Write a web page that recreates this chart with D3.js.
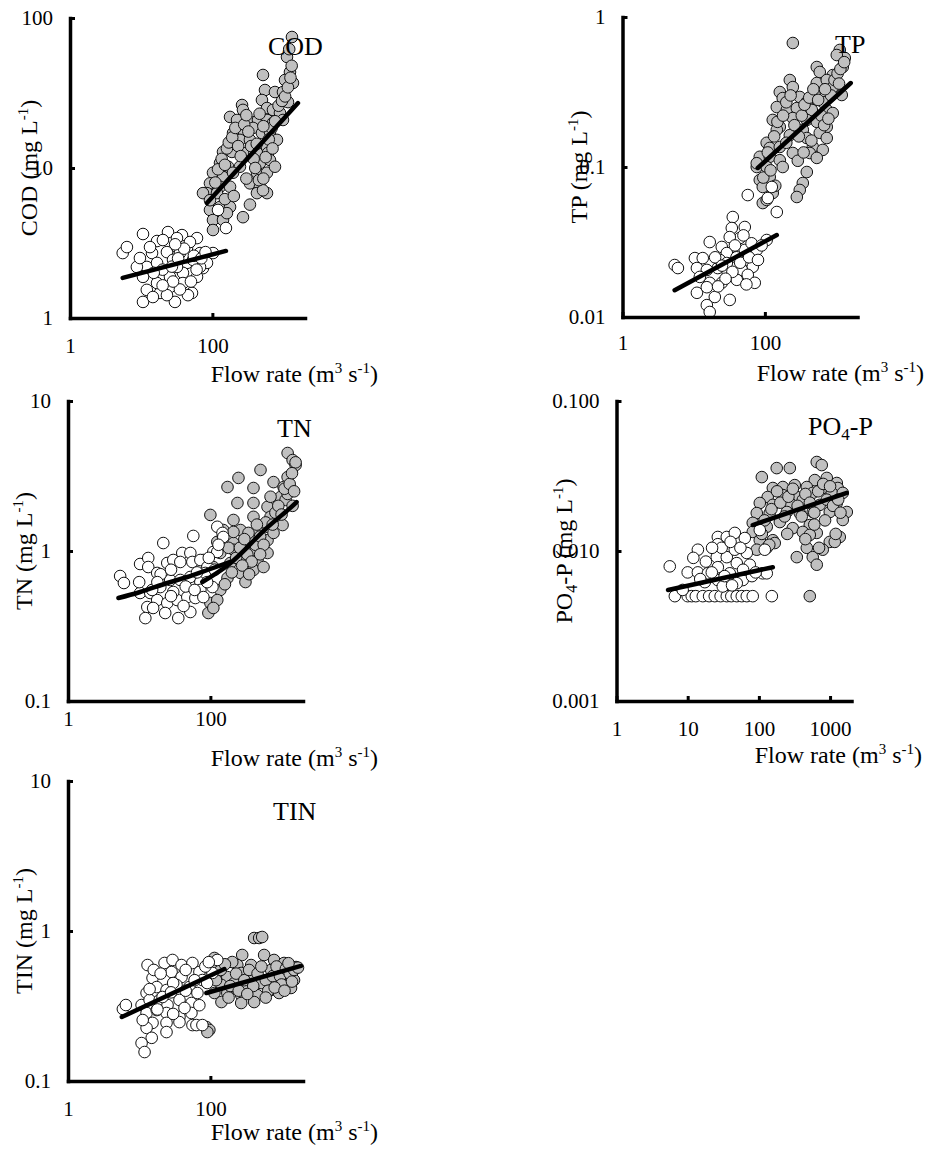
<!DOCTYPE html>
<html>
<head>
<meta charset="utf-8">
<script src="https://cdn.jsdelivr.net/npm/d3@7"></script>
<style>
  body { margin: 0; background: #fff; }
  text { font-family: "Liberation Serif", "Times New Roman", serif; fill: #000; }
</style>
</head>
<body>
<svg id="chart" width="933" height="1153"></svg>
<script>
// [flow rate, concentration]; low flow = white, high flow = grey
const codLow = [[5.5,2.71],[6.3,2.97],[10.6,3.63],[16.7,3.26],[23.8,3.74],[37.4,3.57],[60.8,3.41],[14.2,2.71],[23,2.75],[31.8,2.97],[44,2.93],[67,2.71],[102,2.71],[12,2.19],[16.7,2.33],[28,2.44],[44,2.33],[73.8,2.15],[10.6,1.88],[18.4,1.88],[25.4,1.88],[38.6,2.0],[60.8,1.88],[12,1.54],[18.4,1.47],[25.4,1.61],[38.6,1.71],[51.7,1.47],[10.6,1.28],[29.8,1.28],[14.6,1.38],[23,1.42],[45.4,1.42],[120,5.25],[155,3.98],[84,2.33],[67,2.19],[13.3,2.97],[20.2,3.31],[31.8,3.41],[48.4,3.21],[8.7,2.19],[9.6,2.51],[44,2.55],[53.4,2.44],[16.7,1.71],[31.8,2.19],[35,2.71],
  [20,2.1],[27,2.2],[33,2.5],[40,2.9],[55,2.6],[70,2.5],[80,2.75],[35,1.55],[28,1.75],[20,1.65],[50,1.75],[15,2.0],[30,3.1],[60,2.1]];
const codHigh = [[1312,74.7],[1117,55],[1230,43.6],[1047,38.6],[1355,36.9],[514,41.7],[548,33.1],[757,32.1],[981,32.1],[1153,27.5],[497,28.4],[261,26.3],[269,24.4],[585,25.1],[710,24.4],[890,23.3],[177,21.9],[222,20.9],[337,20.3],[437,20.9],[585,20.9],[710,20],[981,20.9],[195,17.1],[269,17.9],[372,18.5],[497,17.1],[644,17.4],[244,15.4],[337,15.4],[585,13.8],[808,15.4],[141,12.8],[188,12.8],[269,12.6],[423,12.6],[604,12.6],[128,10.8],[166,10.2],[244,10.2],[466,10.8],[644,11.3],[102,9.3],[141,8.7],[195,9.3],[423,9.3],[585,9.3],[757,10.2],[92.5,7.9],[128,7.5],[177,7.5],[337,7.9],[466,7.5],[585,6.8],[84,6.8],[116,6.8],[423,6.8],[514,7.1],[73.8,6.8],[92.5,5.25],[128,5.5],[177,5.5],[269,4.7],[337,5.7],[102,4.5],[141,4.5],[102,3.86],[160,5.0],[92.5,6.1],
  [110,8.0],[120,9.8],[135,11.5],[150,10.5],[160,13.5],[170,14.8],[190,16.0],[210,18.5],[230,14.0],[250,12.0],[280,19.5],[300,22.5],[320,17.5],[350,14.0],[380,11.5],[400,10.0],[450,8.3],[520,8.5],[560,11.8],[620,15.5],[680,18.5],[760,20.5],[850,26.0],[950,28.0],[1050,30.0],[1150,34.5],[1250,40.0],[1300,48.0],[1200,62.0],[300,8.5],[150,6.2],[200,6.5],[420,14.5],[520,19.0],[460,23.0],[700,13.5]];
const codLowFit = [[5.5,1.85],[155,2.8]];
const codHighFit = [[84,5.84],[1593,27.1]];

const tpLow = [[5.4,0.0222],[6.0,0.0212],[10.4,0.0247],[13.4,0.0247],[16.8,0.0316],[11.1,0.0212],[24.8,0.0293],[35.4,0.0464],[34.3,0.0392],[52.2,0.0398],[44.4,0.0336],[32.1,0.0341],[29.2,0.0267],[44.4,0.0267],[55.7,0.024],[76.9,0.028],[67.6,0.0216],[47.4,0.0206],[30.1,0.0197],[21.8,0.0212],[15.3,0.0206],[16.8,0.0169],[24.8,0.0169],[40.3,0.0177],[57.5,0.0191],[72.1,0.0169],[11.1,0.0145],[15.3,0.0158],[19.8,0.0136],[32.1,0.013],[15.3,0.012],[16.8,0.0108],[106,0.0326],[57.5,0.065],[110,0.0621],[147,0.0501],[125,0.0736],[23.3,0.024],[12.2,0.0185],[29.2,0.0229],[52.2,0.028],
  [20,0.025],[25,0.022],[35,0.02],[40,0.025],[45,0.023],[60,0.025],[65,0.031],[50,0.035],[38,0.03],[28,0.018],[22,0.016],[80,0.024],[90,0.03],[55,0.0165]];
const tpHigh = [[247,0.671],[1127,0.603],[1325,0.533],[1023,0.558],[536,0.464],[590,0.43],[899,0.41],[1242,0.464],[224,0.38],[247,0.341],[536,0.363],[740,0.38],[899,0.341],[1202,0.302],[162,0.316],[178,0.288],[309,0.293],[388,0.271],[502,0.302],[650,0.271],[147,0.251],[203,0.24],[281,0.247],[456,0.24],[740,0.24],[899,0.229],[129,0.206],[162,0.185],[247,0.212],[388,0.206],[536,0.2],[740,0.185],[147,0.177],[224,0.163],[341,0.177],[590,0.169],[740,0.156],[106,0.145],[117,0.134],[162,0.136],[388,0.156],[471,0.136],[650,0.13],[84.8,0.117],[117,0.117],[162,0.111],[247,0.124],[427,0.124],[536,0.115],[76.9,0.1],[106,0.1],[178,0.1],[388,0.0926],[84.8,0.0819],[117,0.0858],[341,0.0782],[93.4,0.0736],[129,0.0671],[309,0.0703],[281,0.0631],[93.4,0.0575],[106,0.0603],[76.9,0.106],
  [95,0.085],[110,0.125],[135,0.16],[150,0.2],[180,0.22],[200,0.27],[230,0.3],[260,0.19],[300,0.16],[330,0.22],[360,0.26],[420,0.29],[480,0.33],[560,0.28],[620,0.22],[680,0.19],[780,0.21],[850,0.3],[950,0.38],[1050,0.42],[1150,0.45],[1300,0.5],[120,0.095],[140,0.075],[290,0.11],[350,0.125],[450,0.15],[700,0.33],[200,0.145],[1100,0.36]];
const tpLowFit = [[5.4,0.0151],[147,0.0352]];
const tpHighFit = [[79.5,0.0985],[1608,0.363]];

const tnLow = [[5.4,0.681],[6.1,0.612],[10.3,0.819],[13.4,0.898],[21.8,1.13],[57.6,1.26],[13.4,0.782],[17.9,0.714],[24.8,0.832],[30.1,0.871],[40.3,0.97],[52.3,0.97],[37.8,0.845],[55.8,0.845],[72.3,0.871],[90.7,0.782],[110,0.985],[125,1.45],[10.3,0.525],[14.3,0.525],[19.8,0.575],[27.3,0.641],[37.8,0.641],[52.3,0.671],[72.3,0.621],[107,0.575],[13,0.423],[17.9,0.471],[24.8,0.45],[34.3,0.471],[47.4,0.493],[61.5,0.486],[12.2,0.357],[15.7,0.417],[23.2,0.386],[35.4,0.357],[52.3,0.392],[15.2,0.55],[30.1,0.533],[72.3,0.55],[85,0.714],[125,0.985],[148,1.32],[79.7,0.493],[152,1.24],
  [20,0.7],[28,0.75],[45,0.58],[60,0.55],[65,0.72],[42,0.43],[28,0.5],[18,0.62],[10,0.62],[90,0.62],[95,0.9],[115,0.75],[130,1.1]];
const tnHigh = [[1216,4.5],[1429,4.04],[1574,3.74],[1574,3.9],[506,3.47],[248,3.07],[174,2.67],[771,2.88],[1216,3.11],[1067,2.67],[403,2.63],[240,2.09],[403,2.09],[635,1.97],[968,2.29],[1138,2.19],[1216,2.4],[1429,2.0],[100,1.74],[211,1.61],[403,1.69],[700,1.69],[1033,1.49],[152,1.38],[265,1.38],[459,1.38],[635,1.45],[125,1.15],[211,1.13],[366,1.15],[635,1.18],[771,1.32],[79.7,0.871],[138,0.97],[211,1.02],[403,0.97],[635,0.97],[191,0.832],[292,0.871],[459,0.871],[110,0.782],[174,0.661],[265,0.714],[311,0.621],[403,0.747],[138,0.55],[100,0.45],[125,0.471],[93.7,0.386],[110,0.417],[558,0.782],[343,1.32],[211,1.34],
  [150,1.25],[180,1.05],[230,0.9],[260,1.05],[300,1.2],[330,0.95],[380,0.85],[430,1.1],[500,1.25],[560,1.1],[600,1.55],[750,1.5],[820,1.8],[900,2.0],[1000,1.75],[1100,2.6],[1300,2.8],[1400,3.3],[1500,2.5],[500,0.95],[280,0.8],[160,0.6],[200,0.72],[350,0.7],[450,1.5],[700,2.3]];
const tnLowFit = [[5.1,0.486],[10.3,0.533],[24.8,0.612],[47.4,0.671],[90.7,0.747],[191,0.845]];
const tnHighFit = [[77.1,0.621],[163,0.782],[311,1.03],[595,1.4],[1138,1.82],[1626,2.12]];

const po4Low = [[6.6,0.005],[10,0.005],[11.4,0.005],[13,0.005],[16.3,0.005],[20,0.005],[24,0.005],[29,0.005],[35.4,0.005],[41,0.005],[48.9,0.005],[57.5,0.005],[67.6,0.005],[82,0.005],[152,0.005],[5.6,0.0079],[10,0.0072],[13.9,0.0102],[13.9,0.0072],[26.5,0.0124],[26.5,0.0111],[35.4,0.0124],[45.9,0.0132],[63.4,0.0122],[25.6,0.0091],[35.4,0.0091],[45.9,0.0102],[48.9,0.0083],[26.5,0.0078],[17.4,0.0062],[26.5,0.0064],[39,0.0071],[59.4,0.0064],[74.5,0.0081],[19.2,0.0071],[121,0.0102],[113,0.0071],[31.1,0.0058],[48.9,0.0061],[8.5,0.0055],[67.6,0.0097],[103,0.0138],[21.8,0.0072],[129,0.0071],
  [12,0.009],[18,0.0085],[30,0.0105],[40,0.0115],[55,0.0105],[60,0.0075],[22,0.0105],[33,0.0068],[15,0.0065],[80,0.0068],[90,0.0072],[42,0.0059]];
const po4High = [[650,0.0392],[764,0.0374],[178,0.0357],[272,0.0357],[110,0.0311],[610,0.0297],[899,0.0307],[1242,0.0284],[157,0.0263],[217,0.0267],[319,0.0275],[471,0.0267],[789,0.0263],[1283,0.0263],[133,0.0229],[217,0.0236],[341,0.0229],[571,0.0244],[1057,0.0244],[1507,0.0244],[103,0.0209],[157,0.0203],[272,0.0209],[414,0.0219],[716,0.0203],[1242,0.0209],[1717,0.0182],[93.4,0.0179],[142,0.0179],[247,0.0182],[375,0.0179],[571,0.0182],[990,0.0182],[1507,0.0161],[82,0.0154],[129,0.0145],[197,0.0156],[299,0.0142],[519,0.0149],[650,0.0132],[82,0.0134],[103,0.0118],[157,0.0118],[414,0.0134],[519,0.0128],[990,0.0115],[1368,0.0124],[93.4,0.0102],[129,0.0105],[167,0.0113],[471,0.0105],[789,0.0102],[341,0.0091],[571,0.0091],[650,0.0081],[519,0.005],[1164,0.0115],
  [120,0.016],[150,0.019],[180,0.025],[200,0.021],[230,0.017],[260,0.023],[300,0.026],[350,0.02],[400,0.017],[450,0.024],[520,0.021],[600,0.018],[680,0.025],[800,0.028],[900,0.022],[1000,0.027],[1100,0.02],[1300,0.022],[1400,0.018],[250,0.013],[600,0.015],[850,0.016],[1200,0.013],[110,0.013],[140,0.011],[700,0.0105],[450,0.012]];
const po4LowFit = [[5.3,0.0055],[157,0.0078]];
const po4HighFit = [[82,0.0149],[1717,0.0244]];

const tinLow = [[5.9,0.302],[6.5,0.321],[10.8,0.321],[13.1,0.593],[15.4,0.486],[22.7,0.612],[29.4,0.641],[39.3,0.593],[56,0.612],[70.2,0.533],[28.5,0.533],[39.3,0.493],[17.6,0.423],[24.2,0.404],[33.4,0.437],[50.8,0.423],[77.3,0.471],[107,0.525],[125,0.641],[12.7,0.386],[14,0.347],[19.4,0.347],[25,0.321],[36.8,0.347],[54.2,0.331],[65.8,0.386],[12.7,0.284],[17.6,0.297],[24.2,0.284],[36.8,0.267],[54.2,0.284],[15.4,0.244],[24.2,0.244],[36.8,0.247],[56,0.236],[12.7,0.226],[15,0.194],[10.8,0.179],[11.9,0.156],[24.2,0.212],[63.7,0.236],[77.3,0.236],[11.2,0.255],[21.3,0.363],[43.3,0.307],
  [16,0.55],[20,0.52],[30,0.45],[45,0.55],[60,0.47],[85,0.58],[95,0.62],[18,0.3],[30,0.28],[45,0.4],[70,0.32],[90,0.45],[14,0.41],[28,0.39]];
const tinHigh = [[412,0.898],[484,0.898],[534,0.912],[87.9,0.229],[96.8,0.219],[90.8,0.212],[114,0.661],[280,0.692],[569,0.692],[785,0.641],[374,0.593],[239,0.593],[1084,0.612],[1596,0.575],[173,0.493],[271,0.525],[412,0.493],[713,0.55],[1084,0.525],[1496,0.471],[143,0.437],[217,0.45],[329,0.437],[517,0.45],[838,0.471],[1194,0.437],[114,0.386],[173,0.386],[271,0.374],[454,0.374],[713,0.404],[1358,0.417],[143,0.336],[271,0.331],[412,0.336],[103,0.575],[82.4,0.493],[203,0.621],[923,0.386],
  [120,0.47],[140,0.55],[160,0.6],[190,0.43],[230,0.52],[250,0.4],[300,0.47],[350,0.55],[400,0.43],[460,0.52],[520,0.58],[600,0.47],[650,0.4],[750,0.5],[850,0.58],[950,0.5],[1000,0.44],[1150,0.56],[1300,0.52],[1500,0.55],[1700,0.57],[1400,0.46],[180,0.36],[330,0.38],[600,0.36],[800,0.42],[1100,0.4],[1250,0.61]];
const tinLowFit = [[5.7,0.267],[157,0.558]];
const tinHighFit = [[87.9,0.386],[1870,0.585]];

// axis ticks and labels
const flowDomain = [1, 2000];
const xTicks = [1, 100];
const xTickLabels = ['1', '100'];
const po4XTicks = [1, 10, 100, 1000];
const po4XTickLabels = ['1', '10', '100', '1000'];
const codYTicks = [1, 10, 100], codYLabels = ['1', '10', '100'];
const tpYTicks = [0.01, 0.1, 1], tpYLabels = ['0.01', '0.1', '1'];
const tnYTicks = [0.1, 1, 10], tnYLabels = ['0.1', '1', '10'];
const po4YTicks = [0.001, 0.01, 0.1], po4YLabels = ['0.001', '0.010', '0.100'];
const tinYTicks = [0.1, 1, 10], tinYLabels = ['0.1', '1', '10'];

const panels = [
  { title: ['COD'], low: codLow, high: codHigh, lowFit: codLowFit, highFit: codHighFit,
    yTicks: codYTicks, yLabels: codYLabels, xTicks, xLabels: xTickLabels,
    left: 70, top: 18, titleX: 268, titleY: 55, yTitleX: 37, xPad: 20, xTitleY: 382, xTitleX: 378 },
  { title: ['TP'], low: tpLow, high: tpHigh, lowFit: tpLowFit, highFit: tpHighFit,
    yTicks: tpYTicks, yLabels: tpYLabels, xTicks, xLabels: xTickLabels,
    left: 622.5, top: 17, titleX: 835, titleY: 53, yTitleX: 587, xPad: 18, xTitleY: 381, xTitleX: 924 },
  { title: ['TN'], low: tnLow, high: tnHigh, lowFit: tnLowFit, highFit: tnHighFit,
    yTicks: tnYTicks, yLabels: tnYLabels, xTicks, xLabels: xTickLabels,
    left: 68, top: 401, titleX: 277, titleY: 437, yTitleX: 32, xPad: 10, xTitleY: 766, xTitleX: 378 },
  { title: ['PO', '4', '-P'], low: po4Low, high: po4High, lowFit: po4LowFit, highFit: po4HighFit,
    yTicks: po4YTicks, yLabels: po4YLabels, xTicks: po4XTicks, xLabels: po4XTickLabels,
    left: 616.5, top: 401, titleX: 808, titleY: 435, yTitleX: 572, xPad: 20, xTitleY: 763, xTitleX: 922 },
  { title: ['TIN'], low: tinLow, high: tinHigh, lowFit: tinLowFit, highFit: tinHighFit,
    yTicks: tinYTicks, yLabels: tinYLabels, xTicks, xLabels: xTickLabels,
    left: 68, top: 781, titleX: 273, titleY: 820, yTitleX: 32, xPad: 20, xTitleY: 1140, xTitleX: 378 }
];

const W = 235, H = 300;
const svg = d3.select('#chart');

// name with optional subscript, e.g. PO4-P
function addName(t, parts, subSize) {
  t.append('tspan').text(parts[0]);
  if (parts.length > 1) {
    t.append('tspan').attr('font-size', subSize).attr('dy', 5).text(parts[1]);
    t.append('tspan').attr('dy', -5).text(parts[2]);
  }
}

panels.forEach((p) => {
  const x = d3.scaleLog().domain(flowDomain).range([p.left, p.left + W]);
  const y = d3.scaleLog().domain([p.yTicks[0], p.yTicks[p.yTicks.length - 1]]).range([p.top + H, p.top]);
  const g = svg.append('g');

  // points: grey (high flow) first, white on top
  g.selectAll('circle.high').data(p.high).enter().append('circle')
    .attr('cx', (d) => x(d[0])).attr('cy', (d) => y(d[1])).attr('r', 5.8)
    .attr('fill', '#c0c0c0').attr('stroke', '#111').attr('stroke-width', 1);
  g.selectAll('circle.low').data(p.low).enter().append('circle')
    .attr('cx', (d) => x(d[0])).attr('cy', (d) => y(d[1])).attr('r', 5.8)
    .attr('fill', '#fff').attr('stroke', '#111').attr('stroke-width', 1);

  const line = d3.line().x((d) => x(d[0])).y((d) => y(d[1])).curve(d3.curveNatural);
  [p.lowFit, p.highFit].forEach((f) => {
    g.append('path').attr('d', line(f)).attr('fill', 'none')
      .attr('stroke', '#000').attr('stroke-width', 4.5).attr('stroke-linecap', 'round');
  });

  // axes
  const gy = svg.append('g').attr('transform', `translate(${p.left},0)`)
    .call(d3.axisLeft(y).tickValues(p.yTicks).tickFormat((d, i) => p.yLabels[i])
      .tickSize(-5).tickSizeOuter(0).tickPadding(17));
  const gx = svg.append('g').attr('transform', `translate(0,${p.top + H})`)
    .call(d3.axisBottom(x).tickValues(p.xTicks).tickFormat((d, i) => p.xLabels[i])
      .tickSize(-5).tickSizeOuter(0).tickPadding(p.xPad));
  [gx, gy].forEach((a) => {
    a.attr('font-family', null).attr('font-size', null);
    a.select('.domain').attr('stroke', '#000').attr('stroke-width', 3.5).attr('stroke-linecap', 'square');
    a.selectAll('.tick line').attr('stroke', '#000').attr('stroke-width', 3);
    a.selectAll('.tick text').attr('font-size', 21).attr('fill', '#000');
  });

  // panel name
  const tt = svg.append('text').attr('x', p.titleX).attr('y', p.titleY).attr('font-size', 26);
  addName(tt, p.title, 17);

  // y title
  const yt = svg.append('text').attr('font-size', 24).attr('text-anchor', 'middle')
    .attr('transform', `translate(${p.yTitleX},${p.top + H / 2}) rotate(-90)`);
  addName(yt, p.title, 16);
  yt.append('tspan').text(' (mg L');
  yt.append('tspan').attr('font-size', 15).attr('dy', -9).text('-1');
  yt.append('tspan').attr('dy', 9).text(')');

  // x title
  const xt = svg.append('text').attr('font-size', 24).attr('text-anchor', 'end')
    .attr('x', p.xTitleX).attr('y', p.xTitleY);
  xt.append('tspan').text('Flow rate (m');
  xt.append('tspan').attr('font-size', 15).attr('dy', -9).text('3');
  xt.append('tspan').attr('dy', 9).text(' s');
  xt.append('tspan').attr('font-size', 15).attr('dy', -9).text('-1');
  xt.append('tspan').attr('dy', 9).text(')');
});
</script>
</body>
</html>
